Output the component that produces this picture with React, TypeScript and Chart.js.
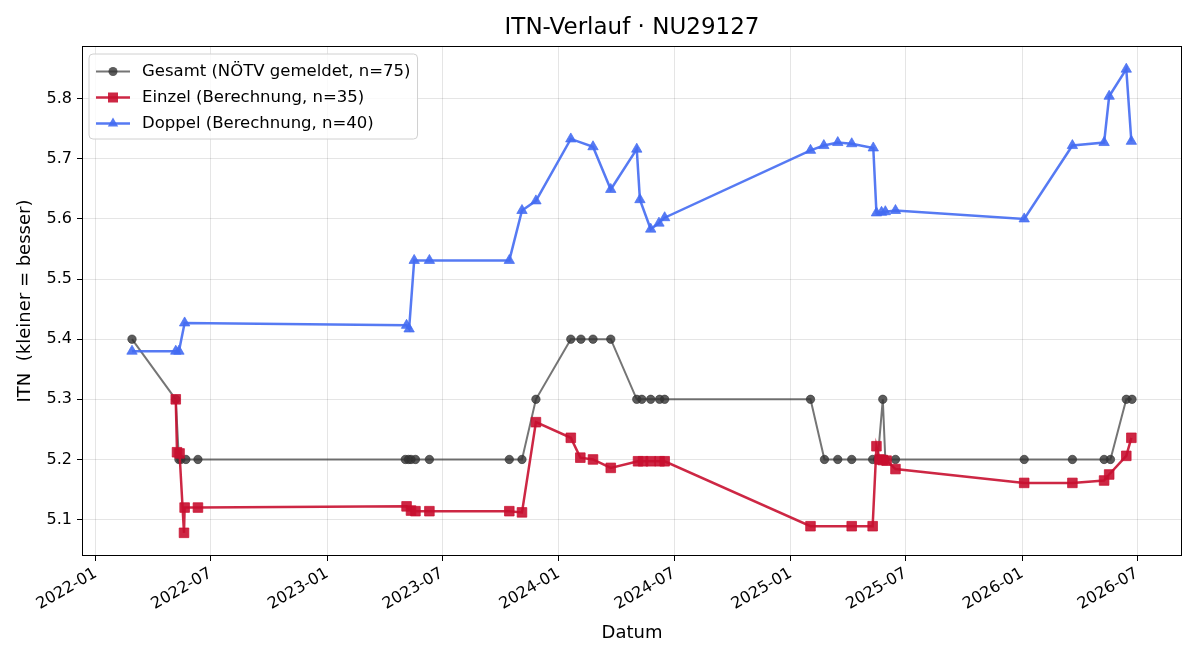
import React, { useEffect, useRef } from 'react';
import { Chart, registerables } from 'chart.js';

Chart.register(...registerables);

// ---------------- data ----------------
const gesamtDates = [
  '2022-02-27', '2022-05-07', '2022-05-12', '2022-05-15', '2022-05-23', '2022-06-11',
  '2023-05-04', '2023-05-09', '2023-05-13', '2023-05-20', '2023-06-11', '2023-10-15', '2023-11-04',
  '2023-11-26', '2024-01-20', '2024-02-05', '2024-02-24', '2024-03-23',
  '2024-05-03', '2024-05-11', '2024-05-25', '2024-06-08', '2024-06-16',
  '2025-02-01', '2025-02-23', '2025-03-16', '2025-04-07', '2025-05-10', '2025-05-18',
  '2025-05-26', '2025-05-30', '2025-06-15',
  '2026-01-04', '2026-03-21', '2026-05-10', '2026-05-20', '2026-06-14', '2026-06-23',
];
const gesamtValues = [
  5.4, 5.3, 5.2, 5.2, 5.2, 5.2,
  5.2, 5.2, 5.2, 5.2, 5.2, 5.2, 5.2,
  5.3, 5.4, 5.4, 5.4, 5.4,
  5.3, 5.3, 5.3, 5.3, 5.3,
  5.3, 5.2, 5.2, 5.2, 5.2, 5.2,
  5.3, 5.2, 5.2,
  5.2, 5.2, 5.2, 5.2, 5.3, 5.3,
];

const einzelDates = [
  '2022-05-07', '2022-05-09', '2022-05-13', '2022-05-20', '2022-05-21', '2022-06-11',
  '2023-05-06', '2023-05-13', '2023-05-20', '2023-06-11', '2023-10-15', '2023-11-04', '2023-11-26',
  '2024-01-20', '2024-02-04', '2024-02-24', '2024-03-23',
  '2024-05-05', '2024-05-13', '2024-05-25', '2024-06-08', '2024-06-16',
  '2025-02-01', '2025-04-07', '2025-05-10', '2025-05-16', '2025-05-21', '2025-05-26', '2025-06-01', '2025-06-15',
  '2026-01-04', '2026-03-21', '2026-05-10', '2026-05-18', '2026-06-14', '2026-06-22',
];
const einzelValues = [
  5.300, 5.212, 5.210, 5.078, 5.120, 5.120,
  5.122, 5.115, 5.114, 5.114, 5.114, 5.112, 5.262,
  5.236, 5.203, 5.200, 5.186,
  5.197, 5.197, 5.197, 5.197, 5.197,
  5.089, 5.089, 5.089, 5.222, 5.200, 5.199, 5.198, 5.184,
  5.161, 5.161, 5.165, 5.175, 5.206, 5.236,
];

const doppelDates = [
  '2022-02-27', '2022-05-07', '2022-05-12', '2022-05-21',
  '2023-05-06', '2023-05-10', '2023-05-18', '2023-06-11', '2023-10-15', '2023-11-04', '2023-11-26',
  '2024-01-20', '2024-02-24', '2024-03-23', '2024-05-03', '2024-05-08', '2024-05-25', '2024-06-07', '2024-06-16',
  '2025-02-01', '2025-02-22', '2025-03-16', '2025-04-07', '2025-05-11', '2025-05-16', '2025-05-24', '2025-05-30', '2025-06-15',
  '2026-01-04', '2026-03-21', '2026-05-10', '2026-05-18', '2026-06-14', '2026-06-22',
];
const doppelValues = [
  5.380, 5.380, 5.380, 5.427,
  5.423, 5.417, 5.531, 5.531, 5.531, 5.614, 5.630,
  5.733, 5.720, 5.649, 5.716, 5.632, 5.583, 5.593, 5.602,
  5.714, 5.722, 5.727, 5.725, 5.718, 5.610, 5.611, 5.612, 5.614,
  5.600, 5.722, 5.727, 5.804, 5.849, 5.729,
];

const seriesLabels = [
  'Gesamt (NÖTV gemeldet, n=75)',
  'Einzel (Berechnung, n=35)',
  'Doppel (Berechnung, n=40)',
];

const xTickLabels = [
  '2022-01', '2022-07', '2023-01', '2023-07', '2024-01',
  '2024-07', '2025-01', '2025-07', '2026-01', '2026-07',
];
const yTickValues = [5.1, 5.2, 5.3, 5.4, 5.5, 5.6, 5.7, 5.8];

const titleText = 'ITN-Verlauf · NU29127';
const xAxisTitle = 'Datum';
const yAxisTitle = 'ITN  (kleiner = besser)';

// ---------------- helpers ----------------
const FONT = 'DejaVu Sans';
const toDay = (s: string) => {
  const [y, m, d] = s.split('-').map(Number);
  return Date.UTC(y, m - 1, d || 1) / 86400000;
};
const makePoints = (dates: string[], values: number[]) =>
  dates.map((d, i) => ({ x: toDay(d), y: values[i] }));

const xTickDays = xTickLabels.map((l) => toDay(l + '-01'));

const GREY = 'rgba(51,51,51,0.68)';
const GREY_PT = 'rgba(51,51,51,0.8)';
const RED = 'rgba(200,16,48,0.9)';
const BLUE = 'rgba(68,108,242,0.9)';

const titlePlugin = {
  id: 'mplTitle',
  afterDraw(chart: any) {
    const { ctx, chartArea } = chart;
    ctx.save();
    ctx.font = `23px "${FONT}"`;
    ctx.fillStyle = '#000';
    ctx.textAlign = 'center';
    ctx.textBaseline = 'middle';
    ctx.fillText(titleText, (chartArea.left + chartArea.right) / 2, 28);
    ctx.restore();
  },
};

const legendPlugin = {
  id: 'mplLegend',
  afterDraw(chart: any) {
    const ctx = chart.ctx as CanvasRenderingContext2D;
    const ds = chart.data.datasets;
    ctx.save();
    ctx.font = `16.5px "${FONT}"`;
    const textX = 142;
    let maxW = 0;
    ds.forEach((d: any) => { maxW = Math.max(maxW, ctx.measureText(d.label).width); });
    const bx = 89, by = 54, bw = textX + maxW + 7 - bx, bh = 85;
    const r = 4;
    ctx.beginPath();
    ctx.moveTo(bx + r, by);
    ctx.lineTo(bx + bw - r, by);
    ctx.quadraticCurveTo(bx + bw, by, bx + bw, by + r);
    ctx.lineTo(bx + bw, by + bh - r);
    ctx.quadraticCurveTo(bx + bw, by + bh, bx + bw - r, by + bh);
    ctx.lineTo(bx + r, by + bh);
    ctx.quadraticCurveTo(bx, by + bh, bx, by + bh - r);
    ctx.lineTo(bx, by + r);
    ctx.quadraticCurveTo(bx, by, bx + r, by);
    ctx.closePath();
    ctx.fillStyle = 'rgba(255,255,255,0.8)';
    ctx.fill();
    ctx.strokeStyle = '#d0d0d0';
    ctx.lineWidth = 1;
    ctx.stroke();

    const rows = [71.5, 97.5, 123.5];
    ds.forEach((d: any, i: number) => {
      const y = rows[i];
      ctx.strokeStyle = d.borderColor;
      ctx.lineWidth = d.borderWidth;
      ctx.beginPath();
      ctx.moveTo(96, y);
      ctx.lineTo(130, y);
      ctx.stroke();
      ctx.fillStyle = d.pointBackgroundColor;
      const cx = 113;
      ctx.beginPath();
      if (d.pointStyle === 'circle') {
        ctx.arc(cx, y, 4.5, 0, Math.PI * 2);
      } else if (d.pointStyle === 'rect') {
        ctx.rect(cx - 5, y - 5, 10, 10);
      } else {
        ctx.moveTo(cx, y - 6);
        ctx.lineTo(cx + 5.2, y + 3);
        ctx.lineTo(cx - 5.2, y + 3);
        ctx.closePath();
      }
      ctx.fill();
      ctx.fillStyle = '#000';
      ctx.textAlign = 'left';
      ctx.textBaseline = 'middle';
      ctx.fillText(d.label, textX, y + 0.5);
    });
    ctx.restore();
  },
};

const framePlugin = {
  id: 'frame',
  afterDatasetsDraw(chart: any) {
    const { ctx, chartArea } = chart;
    const { left, top, right, bottom } = chartArea;
    ctx.save();
    ctx.strokeStyle = '#000';
    ctx.lineWidth = 1;
    ctx.strokeRect(Math.round(left) + 0.5, Math.round(top) + 0.5, Math.round(right - left) - 1, Math.round(bottom - top) - 1);
    ctx.restore();
  },
};

export default function App() {
  const ref = useRef<HTMLCanvasElement | null>(null);

  useEffect(() => {
    document.body.style.margin = '0';
    if (!ref.current) return;

    const allDays = [...gesamtDates, ...einzelDates, ...doppelDates].map(toDay);
    const allVals = [...gesamtValues, ...einzelValues, ...doppelValues];
    const dMin = Math.min(...allDays), dMax = Math.max(...allDays);
    const vMin = Math.min(...allVals), vMax = Math.max(...allVals);
    const dPad = (dMax - dMin) * 0.05, vPad = (vMax - vMin) * 0.05;

    const tickFont = { family: FONT, size: 16 };

    const chart = new Chart(ref.current, {
      type: 'line',
      data: {
        datasets: [
          {
            label: seriesLabels[0],
            data: makePoints(gesamtDates, gesamtValues),
            borderColor: GREY,
            borderWidth: 2,
            pointStyle: 'circle',
            pointRadius: 4.2,
            pointBackgroundColor: GREY_PT,
            pointBorderColor: GREY_PT,
            pointBorderWidth: 0.8,
            tension: 0,
            order: 3,
          },
          {
            label: seriesLabels[1],
            data: makePoints(einzelDates, einzelValues),
            borderColor: RED,
            borderWidth: 2.5,
            pointStyle: 'rect',
            pointRadius: 6.8,
            pointBackgroundColor: RED,
            pointBorderColor: RED,
            pointBorderWidth: 0.8,
            tension: 0,
            order: 2,
          },
          {
            label: seriesLabels[2],
            data: makePoints(doppelDates, doppelValues),
            borderColor: BLUE,
            borderWidth: 2.5,
            pointStyle: 'triangle',
            pointRadius: 6,
            pointBackgroundColor: BLUE,
            pointBorderColor: BLUE,
            pointBorderWidth: 0.8,
            tension: 0,
            order: 1,
          },
        ] as any,
      },
      options: {
        responsive: false,
        animation: false,
        devicePixelRatio: 1,
        layout: { padding: { left: 0, right: 18, top: 46, bottom: 0 } },
        plugins: {
          legend: { display: false },
          tooltip: { enabled: false },
          title: { display: false },
        },
        scales: {
          x: {
            type: 'linear',
            min: dMin - dPad,
            max: dMax + dPad,
            afterBuildTicks: (s: any) => {
              s.ticks = xTickDays.map((v) => ({ value: v }));
            },
            afterFit: (s: any) => {
              s.height = 104;
            },
            ticks: {
              autoSkip: false,
              minRotation: 30,
              maxRotation: 30,
              color: '#000',
              font: tickFont,
              padding: 3,
              callback: (v: any) => {
                const i = xTickDays.indexOf(Number(v));
                return i >= 0 ? xTickLabels[i] : '';
              },
            },
            grid: { color: 'rgba(0,0,0,0.1)', tickColor: '#000', tickLength: 5, lineWidth: 1 },
            border: { display: false },
            title: {
              display: true,
              text: xAxisTitle,
              color: '#000',
              font: { family: FONT, size: 18 },
              padding: { top: 4, bottom: 16 },
            },
          },
          y: {
            type: 'linear',
            min: vMin - vPad,
            max: vMax + vPad,
            afterBuildTicks: (s: any) => {
              s.ticks = yTickValues.map((v) => ({ value: v }));
            },
            afterFit: (s: any) => {
              s.width = 82;
            },
            ticks: {
              color: '#000',
              font: tickFont,
              padding: 5,
              callback: (v: any) => Number(v).toFixed(1),
            },
            grid: { color: 'rgba(0,0,0,0.1)', tickColor: '#000', tickLength: 5, lineWidth: 1 },
            border: { display: false },
            title: {
              display: true,
              text: yAxisTitle,
              color: '#000',
              font: { family: FONT, size: 18 },
              padding: { top: 15, bottom: 4 },
            },
          },
        },
      } as any,
      plugins: [framePlugin, legendPlugin, titlePlugin],
    });

    return () => chart.destroy();
  }, []);

  return (
    <div style={{ width: 1200, height: 660, background: '#fff' }}>
      <canvas ref={ref} width={1200} height={660} style={{ display: 'block' }} />
    </div>
  );
}
